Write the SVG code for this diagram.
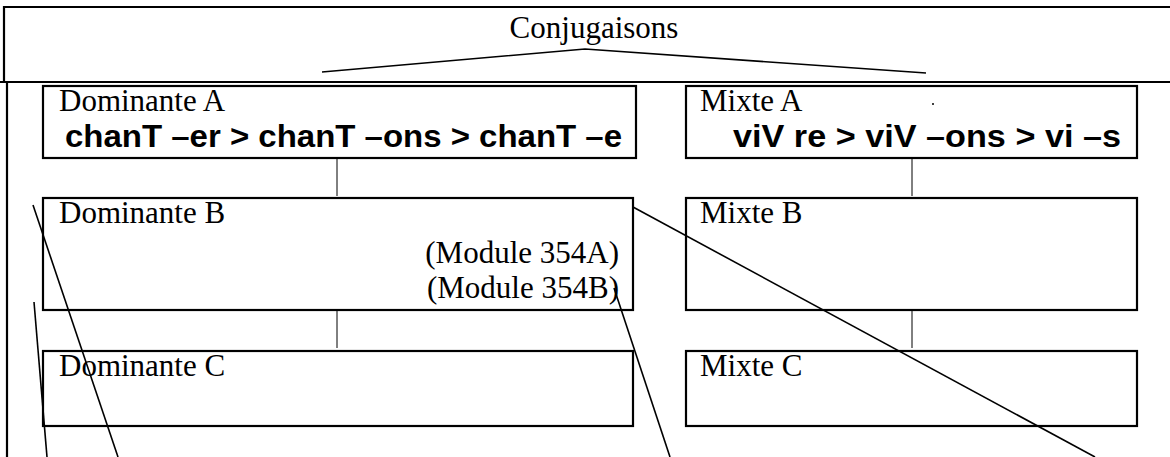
<svg xmlns="http://www.w3.org/2000/svg" width="1170" height="457" viewBox="0 0 1170 457">
<style>
.box{fill:none;stroke:#000;stroke-width:2.2}
.frame{fill:none;stroke:#000;stroke-width:2.2}
.ser{font-family:"Liberation Serif","Times New Roman",serif;font-size:31px;fill:#000}
.bold{font-family:"Liberation Sans",Arial,sans-serif;font-weight:bold;font-size:31px;fill:#000}
.conn{stroke:#000;stroke-width:1;fill:none}
.diag{stroke:#000;stroke-width:1.6;fill:none}
</style>
<rect width="1170" height="457" fill="#fff"/>
<g id="frame">
<path class="frame" d="M1172,7 H4 V82 M0,82 H1172 M7,82 V460"/>
</g>
<g id="conjugaisons">
<text class="ser" x="594" y="38" text-anchor="middle">Conjugaisons</text>
</g>
<g id="dominante-a">
<rect class="box" x="43" y="86" width="593" height="72"/>
<text class="ser" x="59" y="111">Dominante A</text>
<text class="bold" x="65" y="147" textLength="557" lengthAdjust="spacingAndGlyphs">chanT –er &gt; chanT –ons &gt; chanT –e</text>
</g>
<g id="mixte-a">
<rect class="box" x="686" y="86" width="451" height="72"/>
<text class="ser" x="700" y="111">Mixte A</text>
<circle cx="933" cy="104" r="1" fill="#000"/>
<text class="bold" x="733" y="147" textLength="388" lengthAdjust="spacingAndGlyphs">viV re &gt; viV –ons &gt; vi –s</text>
</g>
<g id="dominante-b">
<rect class="box" x="43" y="198" width="590" height="112"/>
<text class="ser" x="59" y="223">Dominante B</text>
<text class="ser" x="619" y="263" text-anchor="end">(Module 354A)</text>
<text class="ser" x="619" y="298" text-anchor="end">(Module 354B)</text>
</g>
<g id="mixte-b">
<rect class="box" x="686" y="198" width="451" height="112"/>
<text class="ser" x="700" y="223">Mixte B</text>
</g>
<g id="dominante-c">
<rect class="box" x="43" y="351" width="590" height="75"/>
<text class="ser" x="59" y="376">Dominante C</text>
</g>
<g id="mixte-c">
<rect class="box" x="686" y="351" width="451" height="75"/>
<text class="ser" x="700" y="376">Mixte C</text>
</g>
<g id="connectors">
<polyline class="diag" points="322,72 585,49 926,73"/>
<line class="conn" x1="337" y1="158" x2="337" y2="196"/>
<line class="conn" x1="912" y1="158" x2="912" y2="196"/>
<line class="conn" x1="337" y1="310" x2="337" y2="348"/>
<line class="conn" x1="912" y1="310" x2="912" y2="348"/>
<line class="diag" x1="33" y1="205" x2="118" y2="457"/>
<line class="diag" x1="34" y1="302" x2="47" y2="457"/>
<line class="diag" x1="614" y1="288" x2="670" y2="457"/>
<line class="diag" x1="633" y1="207" x2="1095" y2="457"/>
</g>
</svg>
